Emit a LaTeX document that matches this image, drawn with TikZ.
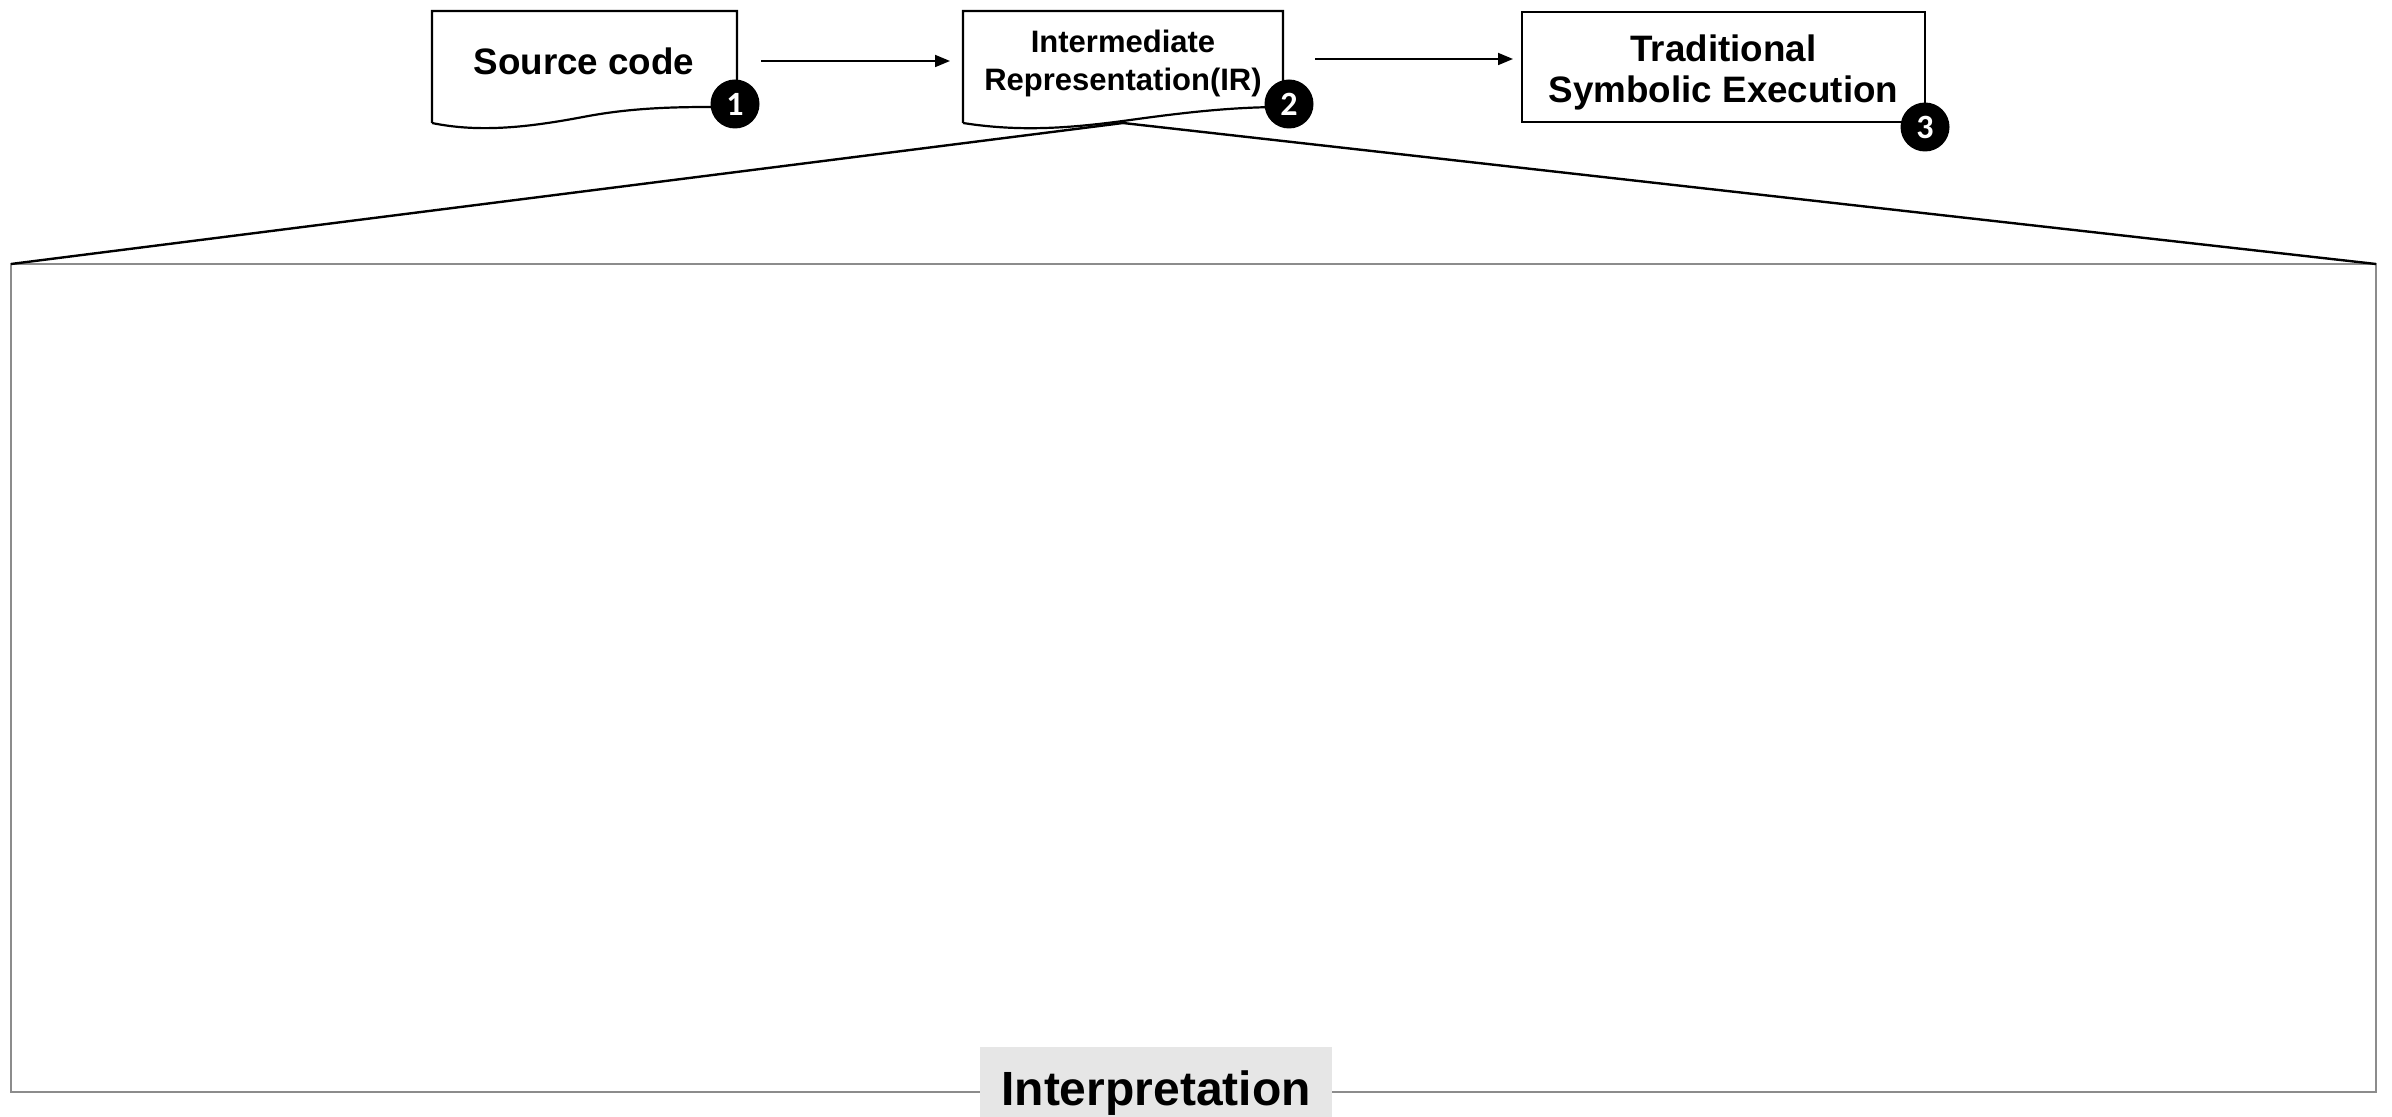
\documentclass[tikz,border=0pt]{standalone}
\usepackage{fontspec}
\setmainfont{Liberation Sans}
\newfontfamily\badgefont{Carlito}
\usetikzlibrary{arrows.meta,calc}
\definecolor{framegray}{HTML}{8C8C8C}
\definecolor{tagfill}{HTML}{E6E6E6}
\begin{document}
\begin{tikzpicture}[x=0.5pt,y=-0.5pt,
  outline/.style={draw=black, line width=1.1pt, line join=miter},
  holder/.style={inner sep=0pt, outer sep=0pt},
  bigtext/.style={font=\bfseries\fontsize{18.4}{20.5}\selectfont, align=center, inner sep=0pt},
  smalltext/.style={font=\bfseries\fontsize{15.5}{19}\selectfont, align=center, inner sep=0pt},
  badge/.style={circle, fill=black, minimum size=24.5pt, inner sep=0pt, text=white,
    font=\badgefont\bfseries\fontsize{17}{17}\selectfont},
  flow/.style={-{Triangle[length=7.5pt,width=6pt]}, line width=0.9pt},
  zoomline/.style={line width=1.2pt},
]
\useasboundingbox (0,0) rectangle (2392,1117);

% expanded view frame
\node[holder, draw=framegray, line width=1.3pt, minimum width=1182.5pt, minimum height=414pt]
  (zoom) at (1193.5,678) {};

% placeholders carrying the anchors of the three stages
\node[holder, minimum width=152.5pt, minimum height=56pt] (src) at (584.5,67) {};
\node[holder, minimum width=160pt, minimum height=56pt] (ir) at (1123,67) {};
\node[holder, outline, minimum width=201.5pt, minimum height=55pt] (tse) at (1723.5,67) {};

% fan-out lines from the IR stage to the frame
\draw[zoomline] (zoom.north west) -- (ir.south) -- (zoom.north east);

% document-shaped boxes with a wavy bottom edge
\draw[outline, fill=white] (432,123) -- (432,11) -- (737,11) -- (737,107)
  .. controls (690,107) and (640,106) .. (583,117)
  .. controls (530,127) and (480,133) .. (432,123);
\draw[outline] (963,123) -- (963,11) -- (1283,11) -- (1283,107)
  .. controls (1230,107) and (1180,113) .. (1123,121)
  .. controls (1070,128) and (1020,132) .. (963,123);

% labels
\node[bigtext] (srctext) at (584,61) {Source code};
\node[smalltext] (irtext) at (1123,63) {Intermediate\\Representation(IR)};
\node[bigtext] (tsetext) at (1723.5,72) {Traditional\\Symbolic Execution};

% flow between the stages
\draw[flow, shorten <=12pt, shorten >=6.5pt] (src.east |- srctext.center) -- (ir.west |- srctext.center);
\draw[flow, shorten <=16pt, shorten >=4.5pt] ([yshift=2pt]ir.east |- irtext.center) -- ([yshift=2pt]tse.west |- irtext.center);

% numbered badges
\node[badge] (b1) at (735,104) {1};
\node[badge] (b2) at (1289,104) {2};
\node[badge] (b3) at (1925,127) {3};

% caption tab on the frame
\node[holder, fill=tagfill, minimum width=176pt, minimum height=35pt, text height=23pt, text depth=0pt,
  font=\bfseries\fontsize{24}{24}\selectfont] (interp) at (1156,1082) {Interpretation};
\end{tikzpicture}
\end{document}
